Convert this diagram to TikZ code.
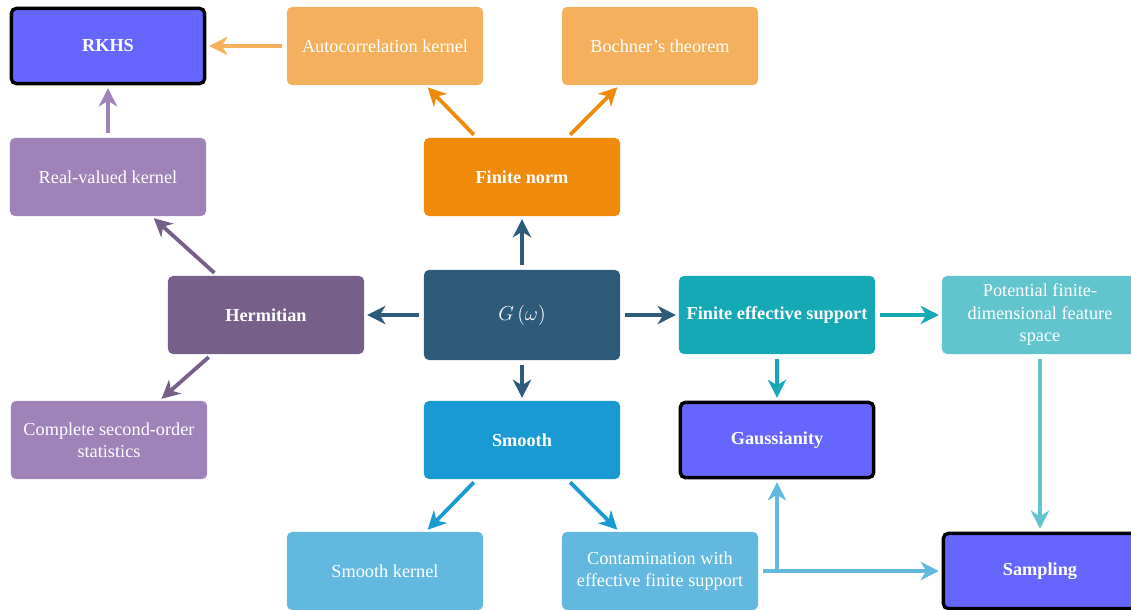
\documentclass[tikz,border=0pt]{standalone}
\usepackage{fontspec}
\setmainfont{Liberation Serif}
\usepackage{tikz}
\usetikzlibrary{arrows.meta}

\definecolor{keyblue}{HTML}{6666FF}
\definecolor{lightorange}{HTML}{F4B05C}
\definecolor{darkorange}{HTML}{F08A0A}
\definecolor{lightpurple}{HTML}{9E82B8}
\definecolor{darkpurple}{HTML}{765F89}
\definecolor{navy}{HTML}{2E5B7A}
\definecolor{tealdark}{HTML}{14A9B5}
\definecolor{teallight}{HTML}{62C5CE}
\definecolor{skyblue}{HTML}{1A9AD2}
\definecolor{skylight}{HTML}{63B8E0}

\begin{document}
\begin{tikzpicture}[x=0.025cm,y=-0.025cm,
        box/.style={rounded corners=3.5pt,minimum width=4.9cm,minimum height=1.95cm,
            inner sep=2pt,text=white,align=center,font=\fontsize{13}{16}\selectfont},
        bold/.style={font=\fontsize{13}{16}\selectfont\bfseries},
        key/.style={box,bold,fill=keyblue,draw=black,line width=2.4pt,
            minimum width=4.83cm,minimum height=1.88cm},
        arr/.style={-{Stealth[length=13pt,width=13pt,inset=4pt]},line width=2.7pt,
            shorten <=3pt,shorten >=2pt}]
        \useasboundingbox (0,0) rectangle (1131,610);

        % Top row
        \node[key] (rkhs) at (108,46) {RKHS};
        \node[box,fill=lightorange] (autocorr) at (385,46) {Autocorrelation kernel};
        \node[box,fill=lightorange] (bochner) at (660,46) {Bochner's theorem};

        % Second row
        \node[box,fill=lightpurple] (realval) at (108,177) {Real-valued kernel};
        \node[box,bold,fill=darkorange] (fnorm) at (522,177) {Finite norm};

        % Middle row
        \node[box,bold,fill=darkpurple] (herm) at (266,315) {Hermitian};
        \node[box,fill=navy,minimum height=2.25cm,font=\fontsize{15}{18}\selectfont] (spec) at (522,315) {$G\left(\omega\right)$};
        \node[box,bold,fill=tealdark] (fes) at (777,315) {Finite effective support};
        \node[box,fill=teallight] (feature) at (1040,315) {Potential finite-\\dimensional feature\\space};

        % Fourth row
        \node[box,fill=lightpurple] (second) at (109,440) {Complete second-order\\statistics};
        \node[box,bold,fill=skyblue] (smooth) at (522,440) {Smooth};
        \node[key] (gauss) at (777,440) {Gaussianity};

        % Bottom row
        \node[box,fill=skylight] (skernel) at (385,571) {Smooth kernel};
        \node[box,fill=skylight] (contam) at (660,571) {Contamination with\\effective finite support};
        \node[key] (sampling) at (1040,571) {Sampling};

        % Arrows
        \draw[arr,lightorange] (autocorr.west) -- (rkhs.east);
        \draw[arr,lightpurple] (realval.north) -- (rkhs.south);
        \draw[arr,darkorange] (fnorm.139) -- (autocorr.-44);
        \draw[arr,darkorange] (fnorm.41) -- (bochner.-136);

        \draw[arr,navy] (spec.north) -- (fnorm.south);
        \draw[arr,navy] (spec.west) -- (herm.east);
        \draw[arr,navy] (spec.east) -- (fes.west);
        \draw[arr,navy] (spec.south) -- (smooth.north);

        \draw[arr,darkpurple] (herm.141) -- (realval.-42);
        \draw[arr,darkpurple] (herm.-144) -- (second.38);

        \draw[arr,skyblue] (smooth.-139) -- (skernel.44);
        \draw[arr,skyblue] (smooth.-41) -- (contam.136);

        \draw[arr,tealdark] (fes.south) -- (gauss.north);
        \draw[arr,tealdark] (fes.east) -- (feature.west);
        \draw[arr,teallight] (feature.south) -- (sampling.north);

        \coordinate (branch) at (gauss.south |- contam.east);
        \draw[arr,skylight] (contam.east) -- (sampling.west);
        \draw[arr,skylight,shorten <=0pt] (branch) -- (gauss.south);
    \end{tikzpicture}
\end{document}
